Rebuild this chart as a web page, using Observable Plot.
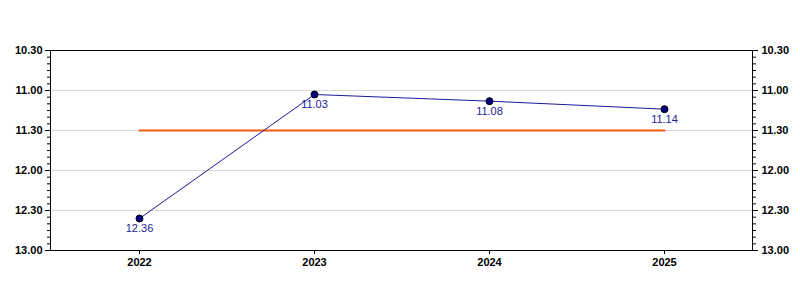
<!DOCTYPE html>
<html>
<head>
<meta charset="utf-8">
<script src="https://cdn.jsdelivr.net/npm/d3@7"></script>
<script src="https://cdn.jsdelivr.net/npm/@observablehq/plot@0.6"></script>
<style>
  html, body { margin: 0; padding: 0; background: #fff; }
  #chart { width: 800px; height: 300px; }
</style>
</head>
<body>
<div id="chart"></div>
<script>
// Data (times as minutes.seconds)
const years = ["2022", "2023", "2024", "2025"];
const times = ["12.36", "11.03", "11.08", "11.14"];
const target = "11.30";
const yTickLabels = ["10.30", "11.00", "11.30", "12.00", "12.30", "13.00"];

const toSec = s => { const [m, ss] = s.split("."); return (+m) * 60 + (+ss); };
const fmt = v => `${Math.floor(v / 60)}.${String(v % 60).padStart(2, "0")}`;

const rows = years.map((y, i) => ({ year: y, t: toSec(times[i]), label: times[i] }));
const targetRows = years.map(y => ({ year: y, t: toSec(target) }));
const majorTicks = yTickLabels.map(toSec);
const minorTicks = d3.range(majorTicks[0], majorTicks[majorTicks.length - 1] + 1, 5);

const font = "'Liberation Sans', Arial, sans-serif";

const plot = Plot.plot({
  width: 800,
  height: 300,
  marginLeft: 50,
  marginRight: 48,
  marginTop: 50,
  marginBottom: 50,
  style: { fontFamily: font, fontSize: "11px", background: "#fff", color: "#000" },
  x: { type: "point", domain: years, padding: 0.5, label: null },
  y: { domain: [majorTicks[0], majorTicks[majorTicks.length - 1]], reverse: true, label: null },
  marks: [
    Plot.gridY(majorTicks, { stroke: "#d9d9d9", strokeOpacity: 1 }),
    Plot.line(targetRows, { x: "year", y: "t", stroke: "#f25a14", strokeWidth: 2 }),
    Plot.line(rows, { x: "year", y: "t", stroke: "#1a1a9a", strokeWidth: 1 }),
    Plot.dot(rows, { x: "year", y: "t", r: 3.5, fill: "#000080", stroke: "#000", strokeWidth: 1 }),
    Plot.text(rows, { x: "year", y: "t", text: "label", dy: 10, fill: "#1a1a99", fontSize: 11 }),
    // left axis
    Plot.axisY({ anchor: "left", ticks: minorTicks, tickSize: 3, tickFormat: () => "", label: null, stroke: "#000" }),
    Plot.axisY({ anchor: "left", ticks: majorTicks, tickSize: 5, tickPadding: 3, tickFormat: fmt, label: null, fontWeight: "bold", fill: "#000" }),
    // right axis
    Plot.axisY({ anchor: "right", ticks: minorTicks, tickSize: 3, tickFormat: () => "", label: null }),
    Plot.axisY({ anchor: "right", ticks: majorTicks, tickSize: 5, tickPadding: 4, tickFormat: fmt, label: null, fontWeight: "bold", fill: "#000" }),
    // bottom axis
    Plot.axisX({ anchor: "bottom", tickSize: 4, tickPadding: 4, label: null, fontWeight: "bold", fill: "#000" }),
    Plot.frame({ stroke: "#000", strokeWidth: 1 })
  ]
});
document.getElementById("chart").appendChild(plot);
</script>
</body>
</html>
